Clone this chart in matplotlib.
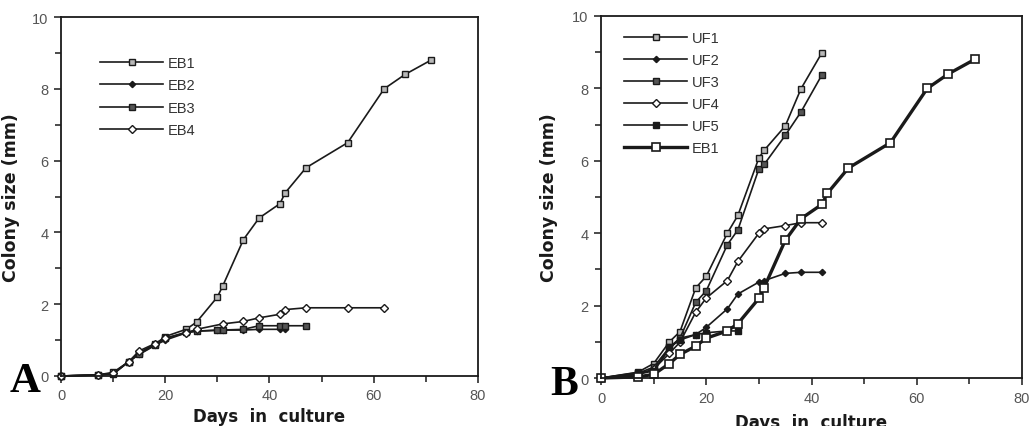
#!/usr/bin/env python3
"""Two-panel colony growth curves (A: EB lines, B: UF lines vs EB1)."""
import matplotlib as mpl
import matplotlib.pyplot as plt
from matplotlib.ticker import MultipleLocator

DAYS_EB1 = [0, 7, 10, 13, 15, 18, 20, 24, 26, 30, 31, 35, 38, 42, 43, 47, 55, 62, 66, 71]
EB1 = [0, 0.03, 0.1, 0.4, 0.65, 0.88, 1.1, 1.3, 1.5, 2.2, 2.5, 3.8, 4.4, 4.8, 5.1, 5.8, 6.5, 8.0, 8.4, 8.8]

DAYS_EB2 = [0, 7, 10, 13, 15, 18, 20, 24, 26, 30, 31, 35, 38, 42, 43]
EB2 = [0, 0.03, 0.05, 0.4, 0.6, 0.85, 1.0, 1.2, 1.25, 1.28, 1.28, 1.28, 1.3, 1.3, 1.3]

DAYS_EB3 = [0, 7, 10, 13, 15, 18, 20, 24, 26, 30, 31, 35, 38, 42, 43, 47]
EB3 = [0, 0.03, 0.06, 0.4, 0.62, 0.86, 1.05, 1.22, 1.25, 1.27, 1.28, 1.3, 1.4, 1.4, 1.4, 1.4]

DAYS_EB4 = [0, 7, 10, 13, 15, 18, 20, 24, 26, 31, 35, 38, 42, 43, 47, 55, 62]
EB4 = [0, 0.03, 0.08, 0.4, 0.7, 0.9, 1.05, 1.2, 1.3, 1.45, 1.52, 1.62, 1.72, 1.85, 1.9, 1.9, 1.9]

DAYS_UF = [0, 7, 10, 13, 15, 18, 20, 24, 26, 30, 31, 35, 38, 42]
UF1 = [0, 0.16, 0.4, 1.0, 1.28, 2.49, 2.81, 4.0, 4.49, 6.08, 6.29, 6.96, 7.99, 8.99]
UF2 = [0, 0.1, 0.2, 0.8, 1.1, 1.2, 1.4, 1.91, 2.32, 2.65, 2.69, 2.89, 2.92, 2.92]
UF3 = [0, 0.13, 0.3, 0.85, 1.1, 2.09, 2.41, 3.68, 4.09, 5.78, 5.9, 6.7, 7.35, 8.38]
UF4 = [0, 0.1, 0.25, 0.68, 0.99, 1.82, 2.21, 2.69, 3.22, 4.0, 4.12, 4.21, 4.29, 4.29]
DAYS_UF5 = [0, 7, 10, 13, 15, 18, 20, 24, 26]
UF5 = [0, 0.15, 0.2, 0.85, 1.05, 1.2, 1.25, 1.3, 1.3]

TICK_FONT = "Liberation Sans"
LABEL_FONT = "DejaVu Sans"
INK = "#1a1a1a"

STYLES = {
    "EB1": dict(marker="s", mfc="#b8b8b8", mec=INK, ms=4.6, lw=1.2),
    "EB2": dict(marker="D", mfc=INK, mec=INK, ms=3.2, lw=1.2),
    "EB3": dict(marker="s", mfc="#555555", mec=INK, ms=4.6, lw=1.2),
    "EB4": dict(marker="D", mfc="white", mec=INK, ms=3.6, lw=1.2),
    "UF1": dict(marker="s", mfc="#b8b8b8", mec=INK, ms=4.6, lw=1.2),
    "UF2": dict(marker="D", mfc=INK, mec=INK, ms=3.2, lw=1.2),
    "UF3": dict(marker="s", mfc="#555555", mec=INK, ms=4.6, lw=1.2),
    "UF4": dict(marker="D", mfc="white", mec=INK, ms=3.6, lw=1.2),
    "UF5": dict(marker="s", mfc=INK, mec=INK, ms=4.6, lw=1.2),
    "EB1b": dict(marker="s", mfc="white", mec=INK, ms=5.6, lw=2.4, mew=1.2),
}


def style_axes(ax, ylab_x):
    ax.set_xlim(0, 80)
    ax.set_ylim(0, 10)
    ax.xaxis.set_major_locator(MultipleLocator(20))
    ax.xaxis.set_minor_locator(MultipleLocator(10))
    ax.yaxis.set_major_locator(MultipleLocator(2))
    ax.yaxis.set_minor_locator(MultipleLocator(1))
    ax.tick_params(which="both", direction="out", top=False, right=False,
                   width=1.1, color=INK)
    ax.tick_params(which="major", length=5, pad=4, labelsize=10.5, labelcolor="#555555")
    ax.tick_params(which="minor", length=4)
    for lab in ax.get_xticklabels() + ax.get_yticklabels():
        lab.set_fontfamily(TICK_FONT)
    for sp in ax.spines.values():
        sp.set_linewidth(1.3)
        sp.set_color(INK)
    ax.set_ylabel("Colony size (mm)", fontfamily=LABEL_FONT, fontweight="bold",
                  fontsize=12.5, color=INK)
    ax.yaxis.set_label_coords(ylab_x, 0.5)
    ax.set_xlabel("Days  in  culture", fontfamily=LABEL_FONT, fontweight="bold",
                  fontsize=12, color=INK, labelpad=3)
    for ln in ax.lines:
        ln.set_clip_on(False)


def main():
    mpl.rcParams.update({"font.family": TICK_FONT})
    fig = plt.figure(figsize=(10.29, 4.27), dpi=100)
    ax_a = fig.add_axes([0.0593, 0.1171, 0.4052, 0.8407])
    ax_b = fig.add_axes([0.5841, 0.1124, 0.4091, 0.8478])

    for name, days, vals in [("EB1", DAYS_EB1, EB1), ("EB2", DAYS_EB2, EB2),
                             ("EB3", DAYS_EB3, EB3), ("EB4", DAYS_EB4, EB4)]:
        ax_a.plot(days, vals, color=INK, label=name, **STYLES[name])

    for name, days, vals in [("UF1", DAYS_UF, UF1), ("UF2", DAYS_UF, UF2),
                             ("UF3", DAYS_UF, UF3), ("UF4", DAYS_UF, UF4),
                             ("UF5", DAYS_UF5, UF5)]:
        ax_b.plot(days, vals, color=INK, label=name, **STYLES[name])
    ax_b.plot(DAYS_EB1, EB1, color=INK, label="EB1", **STYLES["EB1b"])

    style_axes(ax_a, -0.098)
    style_axes(ax_b, -0.102)
    # panel B's axis title sits low and is clipped by the page edge, as in the source
    ax_b.xaxis.set_label_coords(0.5, -0.097)

    leg_kw = dict(frameon=False, loc="upper left", borderpad=0, borderaxespad=0,
                  handlelength=4.3, handletextpad=0.35, numpoints=1,
                  prop={"family": TICK_FONT, "size": 10.5})
    leg_a = ax_a.legend(bbox_to_anchor=(0.094, 0.892), labelspacing=0.58, **leg_kw)
    leg_b = ax_b.legend(bbox_to_anchor=(0.055, 0.958), labelspacing=0.55, **leg_kw)
    for leg in (leg_a, leg_b):
        for t in leg.get_texts():
            t.set_color("#333333")

    fig.text(0.009, 0.083, "A", fontfamily="Liberation Serif", fontweight="bold",
             fontsize=31, color="black", ha="left", va="baseline")
    fig.text(0.535, 0.075, "B", fontfamily="Liberation Serif", fontweight="bold",
             fontsize=30, color="black", ha="left", va="baseline")

    fig.savefig("out.png", dpi=100)


if __name__ == "__main__":
    main()
